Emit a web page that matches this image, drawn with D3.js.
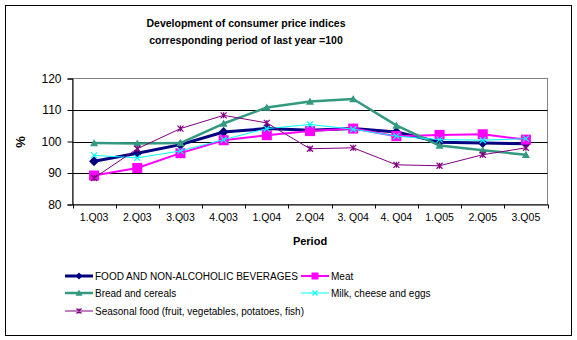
<!DOCTYPE html>
<html>
<head>
<meta charset="utf-8">
<script src="https://cdn.jsdelivr.net/npm/d3@7"></script>
<style>
    body { margin: 0; background: #fff; }
    svg { display: block; font-family: "Liberation Sans", Arial, sans-serif; }
</style>
</head>
<body>
<svg id="chart" width="577" height="340"></svg>
<script>
let periods = ["1.Q03", "2.Q03", "3.Q03", "4.Q03", "1.Q04", "2.Q04", "3. Q04", "4. Q04", "1.Q05", "2.Q05", "3.Q05"];
let yTicks = [80, 90, 100, 110, 120];

let foodValues = [93.7, 96.3, 99.0, 103.0, 104.1, 103.6, 104.1, 103.0, 99.8, 99.5, 99.3];
let meatValues = [89.2, 91.6, 96.3, 100.4, 102.0, 103.3, 104.1, 101.7, 102.1, 102.3, 100.6];
let breadValues = [99.5, 99.4, 99.5, 105.7, 110.8, 112.7, 113.5, 105.1, 98.7, 97.2, 95.8];
let milkValues = [95.6, 94.8, 97.0, 100.6, 104.1, 105.4, 103.9, 101.7, 100.6, 100.4, 100.9];
let seasonalValues = [88.4, 97.7, 104.1, 108.3, 105.9, 97.7, 98.0, 92.6, 92.3, 95.8, 98.0];

let series = [
    { name: "FOOD AND NON-ALCOHOLIC BEVERAGES", values: foodValues, color: "#000080", width: 3, marker: "diamond" },
    { name: "Meat", values: meatValues, color: "#ff00ff", width: 2, marker: "square" },
    { name: "Bread and cereals", values: breadValues, color: "#339980", width: 2.5, marker: "triangle" },
    { name: "Milk, cheese and eggs", values: milkValues, color: "#00ffff", width: 1, marker: "x" },
    { name: "Seasonal food (fruit, vegetables, potatoes, fish)", values: seasonalValues, color: "#800080", width: 1, marker: "star" },
];

let svg = d3.select("#chart");
let plotLeft = 72.5, plotRight = 547.5, plotTop = 78.5, plotBottom = 204.5;

svg.append("rect")
    .attr("x", 5.5).attr("y", 5.5)
    .attr("width", 566).attr("height", 330)
    .attr("fill", "#fff").attr("stroke", "#000");

let x = d3.scaleBand().domain(periods).range([plotLeft, plotRight]);
let y = d3.scaleLinear().domain([80, 120]).range([plotBottom, plotTop]);

// plot area frame (grey top/right)
svg.append("rect")
    .attr("x", plotLeft).attr("y", plotTop)
    .attr("width", plotRight - plotLeft).attr("height", plotBottom - plotTop)
    .attr("fill", "#fff").attr("stroke", "#808080");

svg.append("g")
    .selectAll("line")
    .data(yTicks.filter(t => t > 80 && t < 120))
    .join("line")
    .attr("x1", plotLeft).attr("x2", plotRight)
    .attr("y1", d => Math.round(y(d)) + 0.5).attr("y2", d => Math.round(y(d)) + 0.5)
    .attr("stroke", "#000");

let yAxis = svg.append("g")
    .attr("transform", `translate(${plotLeft},0)`)
    .call(d3.axisLeft(y).tickValues(yTicks).tickSize(5).tickPadding(6));
yAxis.select(".domain").attr("stroke", "#000");
yAxis.selectAll("text").attr("font-size", 12).attr("fill", "#000")
    .attr("font-family", "'Liberation Sans', Arial, sans-serif");

let xAxis = svg.append("g")
    .attr("transform", `translate(0,${plotBottom})`)
    .call(d3.axisBottom(x).tickSize(0).tickPadding(9));
xAxis.select(".domain").attr("stroke", "#000");
xAxis.selectAll("text").attr("font-size", 10.5).attr("fill", "#000")
    .attr("font-family", "'Liberation Sans', Arial, sans-serif");

// tick marks between categories
svg.append("g")
    .selectAll("line")
    .data(d3.range(periods.length + 1))
    .join("line")
    .attr("x1", i => Math.round(plotLeft + i * x.step()) + 0.5)
    .attr("x2", i => Math.round(plotLeft + i * x.step()) + 0.5)
    .attr("y1", plotBottom).attr("y2", plotBottom + 4)
    .attr("stroke", "#000");

function drawMarker(g, type, color, size) {
    let s = size;
    if (type == "diamond") {
        g.append("path").attr("d", `M0,${-s}L${s},0L0,${s}L${-s},0Z`).attr("fill", color);
    } else if (type == "square") {
        g.append("rect").attr("x", -s).attr("y", -s).attr("width", 2 * s).attr("height", 2 * s).attr("fill", color);
    } else if (type == "triangle") {
        g.append("path").attr("d", `M0,${-s}L${s},${s * 0.8}L${-s},${s * 0.8}Z`).attr("fill", color);
    } else if (type == "x") {
        g.append("path").attr("d", `M${-s},${-s}L${s},${s}M${-s},${s}L${s},${-s}`).attr("stroke", color).attr("stroke-width", 1.2);
    } else if (type == "star") {
        g.append("path").attr("d", `M${-s},${-s}L${s},${s}M${-s},${s}L${s},${-s}M0,${-s}L0,${s}`).attr("stroke", color).attr("stroke-width", 1.2);
    }
}

let markerSizes = { diamond: 5, square: 5, triangle: 4, x: 3, star: 3 };

let line = d3.line()
    .x((d, i) => x(periods[i]) + x.bandwidth() / 2)
    .y(d => y(d));

for (let s of series) {
    let g = svg.append("g");
    g.append("path")
        .attr("d", line(s.values))
        .attr("fill", "none")
        .attr("stroke", s.color)
        .attr("stroke-width", s.width)
        .attr("stroke-linejoin", "round");
    s.values.forEach((v, i) => {
        let mg = g.append("g").attr("transform", `translate(${x(periods[i]) + x.bandwidth() / 2},${y(v)})`);
        drawMarker(mg, s.marker, s.color, markerSizes[s.marker]);
    });
}

// titles
svg.append("text")
    .attr("x", 246).attr("y", 27)
    .attr("text-anchor", "middle").attr("font-size", 10.5).attr("font-weight", "bold")
    .text("Development of consumer price indices");
svg.append("text")
    .attr("x", 246).attr("y", 44)
    .attr("text-anchor", "middle").attr("font-size", 10.5).attr("font-weight", "bold")
    .text("corresponding period of last year =100");
svg.append("text")
    .attr("x", (plotLeft + plotRight) / 2).attr("y", 245)
    .attr("text-anchor", "middle").attr("font-size", 11).attr("font-weight", "bold")
    .text("Period");
svg.append("text")
    .attr("transform", "translate(25,142) rotate(-90)")
    .attr("text-anchor", "middle").attr("font-size", 13).attr("font-weight", "bold")
    .text("%");

// legend
let legendPos = [[65, 276], [301, 276], [65, 293], [301, 293], [65, 311]];
series.forEach((s, i) => {
    let [lx, ly] = legendPos[i];
    let g = svg.append("g");
    g.append("line")
        .attr("x1", lx).attr("x2", lx + 28)
        .attr("y1", ly).attr("y2", ly)
        .attr("stroke", s.color).attr("stroke-width", s.width);
    let mg = g.append("g").attr("transform", `translate(${lx + 14},${ly})`);
    drawMarker(mg, s.marker, s.color, s.marker == "x" || s.marker == "star" ? 2.5 : 3.5);
    g.append("text")
        .attr("x", lx + 30).attr("y", ly + 4)
        .attr("font-size", 10)
        .text(s.name);
});
</script>
</body>
</html>
